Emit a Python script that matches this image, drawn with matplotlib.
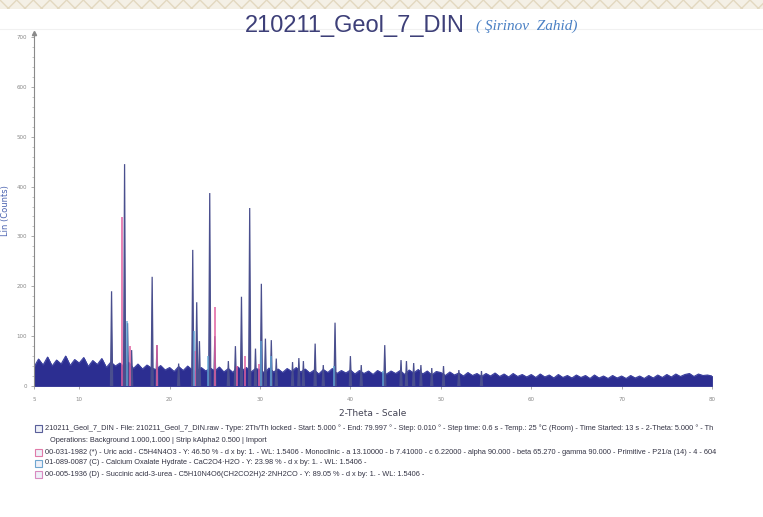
#XRD pattern 210211_Geol_7_DIN
import matplotlib.pyplot as plt
from matplotlib.patches import Rectangle

#two-theta grid of the noise band (every 0.5 deg from 5 to 80)
band_start = 5.0
band_step = 0.5
band_top = [38, 54, 42, 58, 40, 52, 44, 60, 41, 53,
            46, 57, 39, 51, 43, 55, 37, 48, 40, 46,
            38, 47, 35, 44, 34, 42, 36, 33, 41, 32,
            37, 29, 39, 31, 40, 32, 29, 37, 30, 36,
            30, 38, 28, 35, 27, 39, 31, 37, 28, 35,
            33, 26, 36, 28, 34, 27, 35, 29, 37, 28,
            34, 26, 32, 24, 33, 27, 35, 25, 31, 26,
            32, 24, 31, 25, 30, 23, 31, 26, 24, 30,
            25, 31, 23, 32, 26, 33, 24, 30, 22, 29,
            27, 21, 28, 22, 26, 20, 27, 21, 25, 19,
            25, 20, 26, 19, 24, 18, 25, 19, 23, 18,
            23, 17, 24, 18, 22, 16, 23, 17, 21, 16,
            22, 17, 21, 15, 22, 16, 20, 15, 21, 16,
            20, 15, 21, 16, 20, 15, 21, 16, 22, 17,
            23, 18, 24, 19, 23, 25, 19, 24, 21, 22,
            20]
band_x = [band_start + i * band_step for i in range(len(band_top))]

#measured peaks (2-theta, counts)
peak_pos = [13.58, 15.02, 15.35, 15.8, 18.07, 18.6, 21.0, 22.56, 23.0, 23.3,
            24.44, 25.0, 26.5, 27.28, 27.95, 28.86, 29.5, 30.15, 30.6, 31.25,
            31.8, 33.6, 34.3, 34.8, 36.1, 37.0, 38.3, 40.0, 41.2, 43.8,
            45.6, 46.2, 47.0, 47.8, 49.0, 50.3, 52.0, 54.5]
peak_int = [190, 445, 126, 72, 219, 82, 45, 273, 168, 90,
            387, 100, 50, 80, 179, 357, 75, 205, 95, 92,
            55, 48, 56, 50, 85, 42, 127, 60, 42, 82,
            52, 50, 46, 42, 36, 40, 32, 30]

#reference pattern sticks
pink_pos = [14.76, 15.6, 18.6, 22.8, 25.0, 27.5, 28.3, 29.9]
pink_int = [338, 80, 82, 70, 159, 40, 60, 45]
blue_pos = [15.3, 22.7, 24.3, 30.1, 31.2, 38.2, 43.6]
blue_int = [130, 110, 60, 90, 60, 40, 30]

x_ticks = [5, 10, 20, 30, 40, 50, 60, 70, 80]

legend_lines = [
    "210211_Geol_7_DIN - File: 210211_Geol_7_DIN.raw - Type: 2Th/Th locked - Start: 5.000 \u00b0 - End: 79.997 \u00b0 - Step: 0.010 \u00b0 - Step time: 0.6 s - Temp.: 25 \u00b0C (Room) - Time Started: 13 s - 2-Theta: 5.000 \u00b0 - Th",
    "Operations: Background 1.000,1.000 | Strip kAlpha2 0.500 | Import",
    "00-031-1982 (*) - Uric acid - C5H4N4O3 - Y: 46.50 % - d x by: 1. - WL: 1.5406 - Monoclinic - a 13.10000 - b 7.41000 - c 6.22000 - alpha 90.000 - beta 65.270 - gamma 90.000 - Primitive - P21/a (14) - 4 - 604",
    "01-089-0087 (C) - Calcium Oxalate Hydrate - CaC2O4\u00b7H2O - Y: 23.98 % - d x by: 1. - WL: 1.5406 -",
    "00-005-1936 (D) - Succinic acid-3-urea - C5H10N4O6(CH2CO2H)2\u00b72NH2CO - Y: 89.05 % - d x by: 1. - WL: 1.5406 -",
]
legend_box_colors = ["#5a5f9a", None, "#e07aa8", "#6fa6d0", "#d88ac0"]

W, H = 763, 517
fig = plt.figure(figsize=(W / 100, H / 100), dpi=100)
fig.patch.set_facecolor("white")

#decorative band on top
fig.patches.append(Rectangle((0, 1 - 9 / H), 1, 9 / H, transform=fig.transFigure,
                             facecolor="#f4f0e6", edgecolor="#e2d8c0", hatch="xx", lw=0))
fig.add_artist(plt.Line2D([0, 1], [1 - 29 / H, 1 - 29 / H], color="#f1f1f1", lw=0.8,
                          transform=fig.transFigure, zorder=0))

ax = fig.add_axes([34 / W, 1 - 386 / H, (712 - 34) / W, 351.5 / H])

#noise band
ax.fill_between(band_x, 0, band_top, color="#2c2e91", lw=0.6, zorder=2)
ax.plot(band_x, band_top, color="#3a3f9e", lw=0.8, zorder=2)

#peaks
for p, h in zip(peak_pos, peak_int):
    ax.fill([p - 0.12, p, p + 0.12], [0, h, 0], color="#4a4f8e", lw=0.9, zorder=3)

#sticks
ax.vlines(pink_pos, 0, pink_int, color="#e0609f", lw=1.3, alpha=0.85, zorder=4)
ax.vlines(blue_pos, 0, blue_int, color="#5fa6d6", lw=1.2, alpha=0.85, zorder=4)

ax.set_xlim(5, 80)
ax.set_ylim(0, 705)
ax.set_xticks(x_ticks)
ax.set_yticks(range(0, 701, 100))
ax.set_yticks(range(0, 701, 20), minor=True)
ax.tick_params(axis="both", labelsize=4, colors="#888888", length=2, width=0.5, pad=3)
ax.tick_params(axis="y", which="minor", length=1.2, width=0.4, colors="#999999")
ax.tick_params(axis="x", pad=6)
for s in ["top", "right", "bottom"]:
    ax.spines[s].set_visible(False)
ax.spines["left"].set_color("#8a8a8a")
ax.spines["left"].set_linewidth(0.8)
ax.plot(0, 1.005, marker="^", ms=3, color="#8a8a8a", transform=ax.transAxes, clip_on=False)

ax.set_xlabel("2-Theta - Scale", fontsize=6.5, color="#444455", labelpad=5)
ax.set_ylabel("Lin (Counts)", fontsize=6, color="#4a62b0")
ax.yaxis.set_label_coords(-0.036, 0.5)

#title
fig.text(355 / W, 1 - 26 / H, "210211_Geol_7_DIN", ha="center", va="center",
         fontsize=17, family="Liberation Sans", color="#3d3f78")
fig.text(476 / W, 1 - 26 / H, "( \u015eirinov  Zahid)", ha="left", va="center",
         fontsize=11, family="Liberation Serif", style="italic", color="#4a80c4")

#legend block
legend_y = [428, 440, 452, 463, 474]
for txt, yy, c in zip(legend_lines, legend_y, legend_box_colors):
    x0 = 45 if c is not None else 50
    fig.text(x0 / W, 1 - yy / H, txt, ha="left", va="center", fontsize=5.3,
             color="#333344", family="Liberation Sans")
    if c is not None:
        fig.patches.append(Rectangle((35 / W, 1 - (yy + 3.5) / H), 7 / W, 7 / H,
                                     transform=fig.transFigure, facecolor="#eef0f8",
                                     edgecolor=c, lw=0.8))

plt.savefig("out.png", dpi=100)
